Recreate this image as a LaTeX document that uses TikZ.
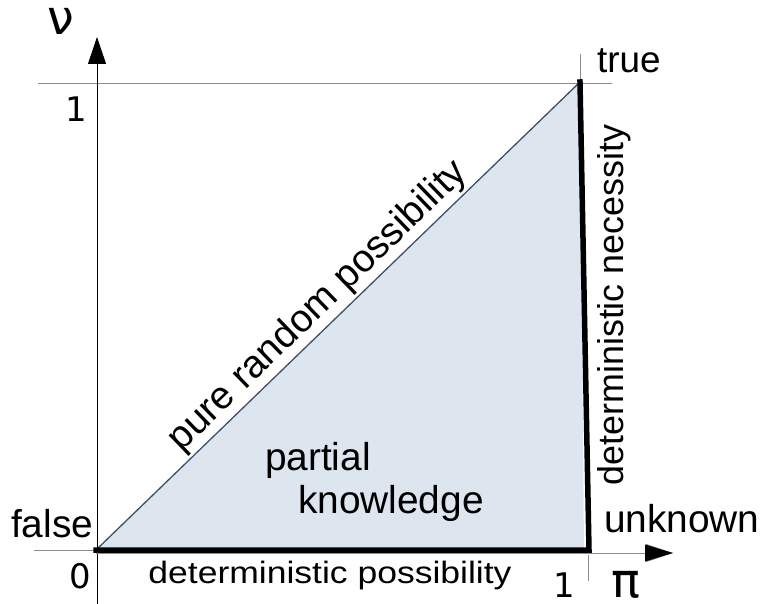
\documentclass[tikz,border=0pt]{standalone}
\usepackage{fontspec}
\setmainfont{Liberation Sans}
\newfontfamily\djfont{DejaVu Sans}
\usetikzlibrary{arrows.meta,calc}
\definecolor{fillblue}{HTML}{DDE5EF}
\definecolor{diagline}{RGB}{60,80,110}
\definecolor{guide}{RGB}{140,140,140}
\tikzset{
  lbl/.style={inner sep=0pt, outer sep=0pt, font=\fontsize{37}{40}\selectfont},
  numlbl/.style={inner sep=0pt, outer sep=0pt, font=\djfont\fontsize{34}{38}\selectfont},
  greeklbl/.style={inner sep=0pt, outer sep=0pt, font=\djfont\fontsize{48}{52}\selectfont},
  guideline/.style={draw=guide, line width=0.9bp},
  axisline/.style={draw=black, line width=0.9bp, -{Triangle[width=18bp,length=27bp]}},
  boldedge/.style={draw=black, line width=5.5bp, line join=miter, line cap=rect},
}
\begin{document}
\begin{tikzpicture}[x=1bp,y=-1bp]
\useasboundingbox (0,0) rectangle (762,604);
\coordinate (O) at (96,550);
\coordinate (T) at (580,82);
\coordinate (U) at (589,550);
\coordinate (F) at (584,550);
% guide lines
\coordinate (gh1) at (38,83);
\coordinate (gh2) at (612,83);
\coordinate (gv1) at (580,54);
\coordinate (gl1) at (34,550);
\coordinate (gb1) at (588,555);
\coordinate (gb2) at (588,581);
\draw[guideline] (gh1) -- (gh2);
\draw[guideline] (gv1) -- (T);
\draw[guideline] (gl1) -- (O);
\draw[guideline] (gb1) -- (gb2);
% filled triangle
\fill[fillblue] (O) -- (T) -- (F) -- cycle;
\draw[diagline, line width=1.3bp] (O) -- (T);
% axes
\coordinate (ybot) at (97,604);
\coordinate (ytop) at (97,37);
\coordinate (xend) at (673,553);
\coordinate (xst) at (96,553);
\draw[axisline] (ybot) -- (ytop);
\draw[axisline, draw=guide] (xst) -- (xend);
\fill[black] (645,544.5) -- (673,553) -- (645,561.5) -- cycle;
% bold edges
\draw[boldedge] (O) -- (U) -- (T);
% labels
\node[greeklbl, anchor=base] (nu) at (61,35) {ν};
\node[greeklbl, anchor=base] (pi) at (626,597) {π};
\node[numlbl, anchor=base] (one-y) at (76,122) {1};
\node[numlbl, anchor=base] (zero) at (80,588) {0};
\node[numlbl, anchor=base] (one-x) at (564,597) {1};
\node[lbl, anchor=base west, font=\fontsize{39}{42}\selectfont] (false) at (11,537) {false};
\node[lbl, anchor=base west] (true) at (597,73) {true};
\node[lbl, anchor=base west, font=\fontsize{39}{42}\selectfont] (unknown) at (604,532) {unknown};
\node[lbl, anchor=base west, font=\fontsize{39}{42}\selectfont] (partial) at (265,470) {partial};
\node[lbl, anchor=base west, font=\fontsize{39}{42}\selectfont] (knowledge) at (298,513) {knowledge};
\node[lbl, anchor=base, font=\fontsize{31}{34}\selectfont] (detposs) at (330,583) {\scalebox{1.15}[1]{deterministic possibility}};
\node[lbl, anchor=base, rotate=90, font=\fontsize{36}{40}\selectfont] (detnec) at (623,305) {deterministic necessity};
\node[lbl, anchor=base, rotate=44, font=\fontsize{39}{42}\selectfont] (prp) at ($(O)!0.49!(T)+(-8,-7)$) {pure random possibility};
\end{tikzpicture}
\end{document}
